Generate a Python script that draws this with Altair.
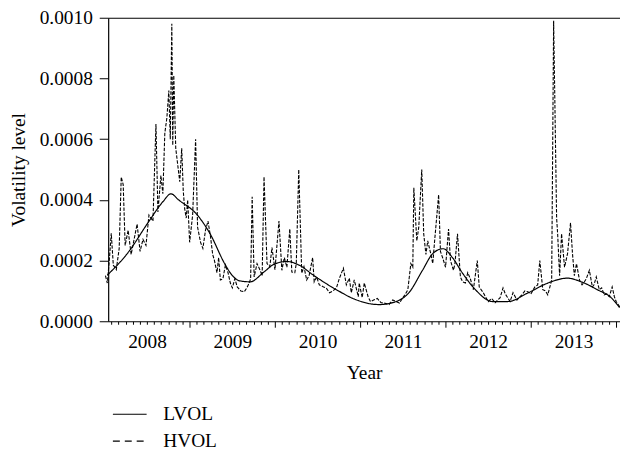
import altair as alt
import pandas as pd

# LVOL (smooth, low-frequency volatility)
lvol_year = [2008.035, 2008.28, 2008.51, 2008.69, 2008.78, 2008.87, 2009.09, 2009.24,
             2009.41, 2009.48, 2009.59, 2009.71, 2009.87, 2009.99, 2010.14, 2010.29,
             2010.45, 2010.72, 2010.95, 2011.22, 2011.42, 2011.57, 2011.73, 2011.85,
             2011.97, 2012.08, 2012.20, 2012.35, 2012.55, 2012.73, 2012.97, 2013.20,
             2013.43, 2013.59, 2013.78, 2013.94, 2014.04]
lvol_value = [0.000152, 0.000227, 0.000324, 0.000395, 0.00042, 0.0004, 0.00035, 0.000288,
              0.00019, 0.000158, 0.000133, 0.00013, 0.000162, 0.000188, 0.000197, 0.000184,
              0.000152, 0.000104, 0.000071, 0.000055, 0.000065, 0.000094, 0.000168, 0.000223,
              0.000239, 0.00021, 0.000158, 0.000104, 0.000065, 0.000065, 0.000094, 0.000126,
              0.000142, 0.00013, 0.000104, 0.000078, 0.000045]

# HVOL (spiky, high-frequency volatility)
hvol_year = [2008.035, 2008.058, 2008.081, 2008.105, 2008.14, 2008.174, 2008.198, 2008.221,
             2008.244, 2008.279, 2008.314, 2008.349, 2008.384, 2008.419, 2008.453, 2008.488,
             2008.523, 2008.57, 2008.605, 2008.628, 2008.663, 2008.686, 2008.709, 2008.733,
             2008.756, 2008.773, 2008.791, 2008.802, 2008.814, 2008.837, 2008.884, 2008.907,
             2008.942, 2008.977, 2009.0, 2009.035, 2009.07, 2009.093, 2009.128, 2009.186,
             2009.244, 2009.291, 2009.36, 2009.419, 2009.477, 2009.558, 2009.64, 2009.698,
             2009.733, 2009.756, 2009.826, 2009.872, 2009.907, 2009.965, 2010.0, 2010.047,
             2010.081, 2010.14, 2010.174, 2010.198, 2010.233, 2010.279, 2010.314, 2010.372,
             2010.442, 2010.488, 2010.57, 2010.64, 2010.721, 2010.756, 2010.802, 2010.837,
             2010.872, 2010.895, 2010.93, 2010.977, 2010.988, 2011.023, 2011.047, 2011.093,
             2011.163, 2011.244, 2011.337, 2011.419, 2011.5, 2011.558, 2011.593, 2011.616,
             2011.628, 2011.663, 2011.686, 2011.721, 2011.744, 2011.791, 2011.826, 2011.872,
             2011.919, 2011.965, 2012.0, 2012.035, 2012.058, 2012.093, 2012.14, 2012.174,
             2012.233, 2012.291, 2012.326, 2012.372, 2012.395, 2012.442, 2012.5, 2012.581,
             2012.64, 2012.674, 2012.721, 2012.756, 2012.791, 2012.837, 2012.895, 2012.965,
             2013.047, 2013.105, 2013.14, 2013.198, 2013.244, 2013.267, 2013.302, 2013.314,
             2013.337, 2013.36, 2013.395, 2013.43, 2013.465, 2013.488, 2013.535, 2013.57,
             2013.628, 2013.686, 2013.721, 2013.767, 2013.802, 2013.86, 2013.919, 2013.953,
             2014.0, 2014.047,
             # denser small fluctuations between the readings above
             2008.013, 2008.925, 2008.96, 2009.155, 2009.215, 2009.27, 2009.32, 2009.34,
             2009.39, 2009.45, 2009.5, 2009.53, 2009.6, 2009.67, 2009.715, 2009.79,
             2009.85, 2009.94, 2010.11, 2010.25, 2010.34, 2010.4, 2010.46, 2010.52,
             2010.6, 2010.68, 2011.12, 2011.2, 2011.28, 2011.38, 2011.46, 2011.53,
             2011.77, 2011.85, 2011.94, 2012.11, 2012.2, 2012.26, 2012.54, 2012.61,
             2012.7, 2012.87, 2012.93, 2013.0, 2013.08, 2013.17, 2013.22, 2013.51,
             2013.6, 2013.65, 2013.74, 2013.83, 2013.89, 2013.98]
hvol_value = [0.000126, 0.0002, 0.00029, 0.000185, 0.00017, 0.00024, 0.000475, 0.00045,
              0.00025, 0.0003, 0.00022, 0.00027, 0.00032, 0.00023, 0.00027, 0.00025,
              0.00035, 0.00033, 0.00065, 0.00036, 0.00048, 0.00042, 0.00062, 0.00067,
              0.00076, 0.0006, 0.00098, 0.00058, 0.00081, 0.00057, 0.00046, 0.00057,
              0.00037, 0.0004, 0.00026, 0.00035, 0.0006, 0.00031, 0.00026, 0.0003,
              0.00028, 0.0002, 0.000136, 0.000185, 0.000126, 0.000113, 0.000097, 0.000126,
              0.00041, 0.000146, 0.000168, 0.000476, 0.00019, 0.000243, 0.00017, 0.00033,
              0.000168, 0.000178, 0.000304, 0.000162, 0.00016, 0.0005, 0.000158, 0.000136,
              0.00021, 0.000146, 0.000113, 0.000094, 0.00011, 0.000142, 0.000175, 0.00012,
              0.000142, 0.000094, 0.000136, 0.000081, 0.000126, 0.000078, 0.000126, 0.00008,
              0.000071, 0.000061, 0.000055, 0.000065, 0.000078, 0.000104, 0.00019, 0.000178,
              0.00044, 0.000265, 0.00031, 0.0005, 0.000288, 0.000265, 0.000223, 0.000265,
              0.000417, 0.00021, 0.000178, 0.000304, 0.0002, 0.000168, 0.000288, 0.000146,
              0.000126, 0.00014, 0.000104, 0.0002, 0.000113, 0.000094, 0.000065, 0.000061,
              0.000078, 0.00011, 0.000081, 0.000065, 0.000094, 0.00007, 0.000087, 0.000097,
              0.000113, 0.0002, 0.000104, 0.000087, 0.000136, 0.00099, 0.00034, 0.000288,
              0.00015, 0.000288, 0.000178, 0.000223, 0.000324, 0.000223, 0.00019, 0.000136,
              0.00013, 0.000168, 0.000113, 0.000146, 0.000104, 0.000087, 0.000081, 0.000113,
              0.000065, 0.000045,
              0.00015, 0.00043, 0.00034, 0.00024, 0.00033, 0.00022, 0.00016, 0.00021,
              0.00014, 0.00016, 0.00011, 0.00014, 0.0001, 0.00011, 0.00014, 0.00019,
              0.00015, 0.00018, 0.00021, 0.00019, 0.00018, 0.00015, 0.00013, 0.00012,
              0.00011, 0.0001, 0.000065, 0.000075, 0.00006, 0.00007, 0.00006, 0.00009,
              0.00022, 0.00019, 0.00023, 0.00019, 0.00013, 0.00016, 0.000075, 0.00007,
              0.00009, 0.00008, 0.0001, 0.00009, 0.00012, 0.0001, 0.00011, 0.00015,
              0.00012, 0.00014, 0.00012, 0.00011, 0.00009, 0.00008]

series_names = ["LVOL", "HVOL"]
y_ticks = [0.0, 0.0002, 0.0004, 0.0006, 0.0008, 0.0010]
month_ticks = [round(2008 + k / 12, 5) for k in range(1, 73)]

FONT = "Liberation Serif"
FS = 19.5

df_l = pd.DataFrame({"year": lvol_year, "value": lvol_value, "series": "LVOL"})
df_h = pd.DataFrame({"year": hvol_year, "value": hvol_value, "series": "HVOL"})

xscale = alt.Scale(domain=[2008.045, 2014.045], nice=False, zero=False)
yscale = alt.Scale(domain=[0, 0.001], nice=False)

yenc = alt.Y("value:Q", scale=yscale, title="Volatility level",
             axis=alt.Axis(values=y_ticks, format=".4f", tickSize=9, labelPadding=7,
                           grid=False, labelFlush=False, titlePadding=11))

hvol = alt.Chart(df_h).mark_line(color="black", strokeWidth=1.1, strokeDash=[3.5, 1.5]).encode(
    x=alt.X("year:Q", scale=xscale, title="Year",
            axis=alt.Axis(values=month_ticks,
                          labelExpr="round((datum.value - 2008) * 12) % 12 == 6 ? toString(floor(datum.value)) : ''",
                          tickSize={"condition": {"test": "abs(datum.value - round(datum.value)) < 0.01", "value": 6}, "value": 3},
                          labelOverlap=False, labelFlush=False, grid=False,
                          labelPadding=8, titlePadding=10)),
    y=yenc,
)

lvol = alt.Chart(df_l).mark_line(color="black", strokeWidth=1.2, interpolate="monotone").encode(
    x=alt.X("year:Q", scale=xscale,
            axis=alt.Axis(orient="top", labels=False, ticks=False, title=None, grid=False, domain=True)),
    y=yenc,
    strokeDash=alt.StrokeDash("series:N",
                              scale=alt.Scale(domain=series_names, range=[[1, 0], [7, 5]]),
                              legend=alt.Legend(orient="none", legendX=0, legendY=390, title=None,
                                                direction="vertical",
                                                symbolType="M-1,0H5.8", symbolSize=100,
                                                symbolStrokeWidth=1.2, symbolStrokeColor="black",
                                                symbolFillColor="transparent",
                                                labelFont=FONT, labelFontSize=FS, labelColor="black",
                                                labelOffset=36, rowPadding=6)),
)

chart = alt.layer(hvol, lvol).resolve_axis(x="independent").properties(
    width=516, height=306,
    autosize=alt.AutoSizeParams(type="none"),
    padding={"left": 101, "top": 8, "right": 0, "bottom": 132},
).configure_axis(
    labelFont=FONT, titleFont=FONT, labelFontSize=FS, titleFontSize=FS,
    titleFontWeight="normal", labelColor="black", titleColor="black",
    domainColor="black", tickColor="black", domainWidth=1.2, tickWidth=1,
).configure_view(stroke=None)

chart.save("out.html", embed_options={"renderer": "svg", "actions": False})
